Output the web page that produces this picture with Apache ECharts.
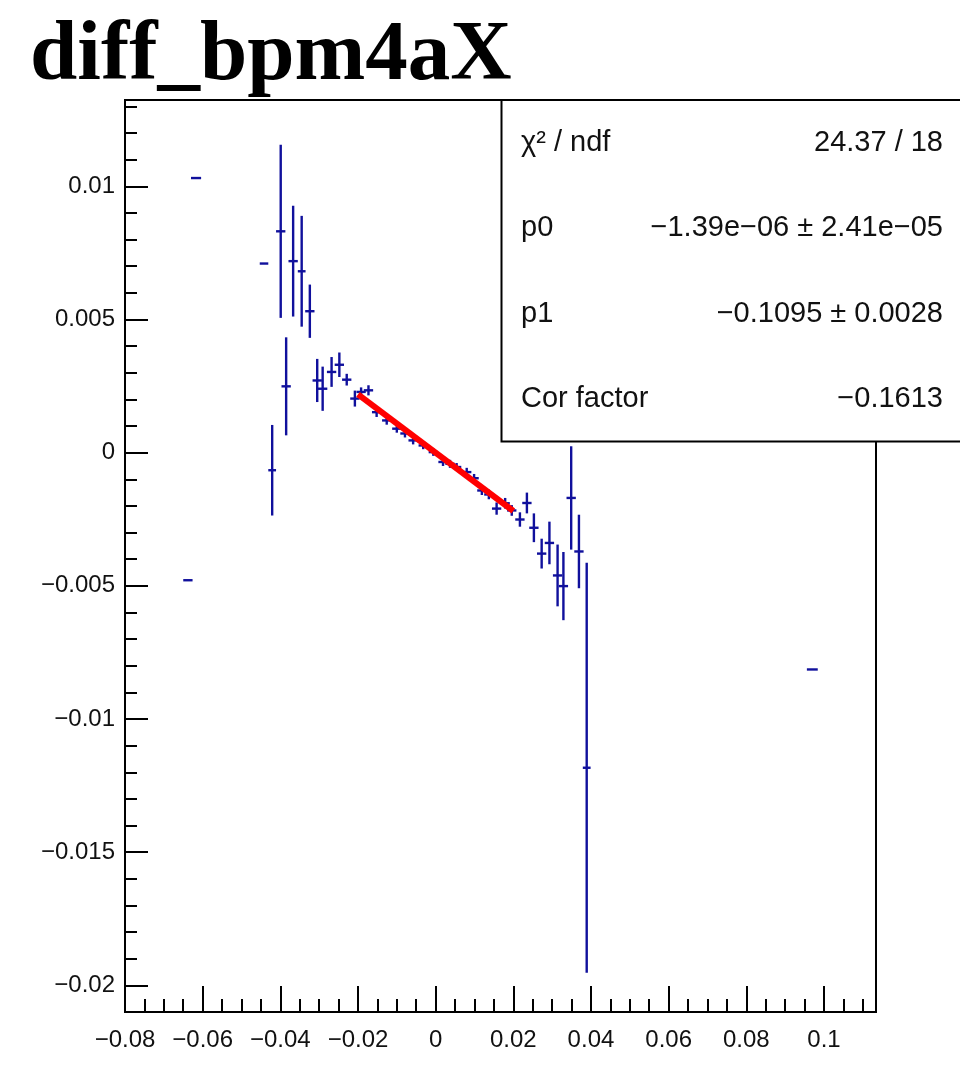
<!DOCTYPE html>
<html><head><meta charset="utf-8">
<script src="https://cdn.jsdelivr.net/npm/echarts@6/dist/echarts.min.js"></script>
<style>html,body{margin:0;padding:0;background:#fff}#c{width:960px;height:1075px}</style>
</head><body><div id="c"></div>
<script>
// ---- data ----
const pointX = [-0.0638, -0.0617, -0.0442, -0.0421, -0.0399, -0.0385, -0.0367, -0.0345, -0.0324, -0.0305,
                -0.0291, -0.0268, -0.0248, -0.0229, -0.0208, -0.0192, -0.0173, -0.0152, -0.0126, -0.0100,
                -0.0079, -0.0058, -0.0032, -0.0006, 0.0019, 0.0037, 0.0054, 0.0080, 0.0099, 0.0119,
                0.0137, 0.0157, 0.0179, 0.0196, 0.0217, 0.0235, 0.0253, 0.0273, 0.0293, 0.0314,
                0.0329, 0.0349, 0.0369, 0.0389, 0.0970];
const pointY = [-0.00479, 0.01031, 0.00710, -0.00066, 0.00831, 0.00249, 0.00719, 0.00681, 0.00531, 0.00271,
                0.00240, 0.00303, 0.00330, 0.00274, 0.00203, 0.00228, 0.00234, 0.00152, 0.00121, 0.00090,
                0.00072, 0.00046, 0.00027, 0.00002, -0.00035, -0.00042, -0.00054, -0.00073, -0.00096, -0.00142,
                -0.00157, -0.00210, -0.00190, -0.00217, -0.00251, -0.00189, -0.00282, -0.00379, -0.00339, -0.00461,
                -0.00501, -0.00170, -0.00371, -0.01183, -0.00814];
const errX   = [0.0012, 0.0013, 0.0011, 0.0010, 0.0012, 0.0012, 0.0012, 0.0010, 0.0012, 0.0012,
                0.0012, 0.0012, 0.0012, 0.0012, 0.0012, 0.0012, 0.0012, 0.0012, 0.0012, 0.0012,
                0.0012, 0.0012, 0.0012, 0.0012, 0.0012, 0.0012, 0.0012, 0.0012, 0.0012, 0.0012,
                0.0012, 0.0012, 0.0012, 0.0012, 0.0012, 0.0012, 0.0012, 0.0012, 0.0012, 0.0012,
                0.0012, 0.0012, 0.0012, 0.0010, 0.0014];
const errY   = [0, 0, 0, 0.00170, 0.00325, 0.00184, 0.00208, 0.00208, 0.00100, 0.00081,
                0.00083, 0.00056, 0.00046, 0.00022, 0.00030, 0.00017, 0.00019, 0.00018, 0.00016, 0.00015,
                0.00015, 0.00015, 0.00014, 0.00014, 0.00015, 0.00015, 0.00015, 0.00016, 0.00016, 0.00017,
                0.00018, 0.00023, 0.00020, 0.00020, 0.00027, 0.00039, 0.00054, 0.00056, 0.00080, 0.00116,
                0.00128, 0.00194, 0.00138, 0.00770, 0];
const fitX = [-0.02, 0.02];
const fitY = [0.00219, -0.00219];

const xMajor  = [-0.08, -0.06, -0.04, -0.02, 0, 0.02, 0.04, 0.06, 0.08, 0.1];
const xLabels = ['\u22120.08', '\u22120.06', '\u22120.04', '\u22120.02', '0', '0.02', '0.04', '0.06', '0.08', '0.1'];
const xMinor  = [-0.075, -0.07, -0.065, -0.055, -0.05, -0.045, -0.035, -0.03, -0.025, -0.015, -0.01, -0.005,
                 0.005, 0.01, 0.015, 0.025, 0.03, 0.035, 0.045, 0.05, 0.055, 0.065, 0.07, 0.075, 0.085, 0.09, 0.095, 0.105, 0.11];
const yMajor  = [0.01, 0.005, 0, -0.005, -0.01, -0.015, -0.02];
const yLabels = ['0.01', '0.005', '0', '\u22120.005', '\u22120.01', '\u22120.015', '\u22120.02'];
const yMinor  = [0.013, 0.012, 0.011, 0.009, 0.008, 0.007, 0.006, 0.004, 0.003, 0.002, 0.001,
                 -0.001, -0.002, -0.003, -0.004, -0.006, -0.007, -0.008, -0.009, -0.011, -0.012, -0.013, -0.014,
                 -0.016, -0.017, -0.018, -0.019];
const statsNames  = ['\u03c7\u00b2 / ndf', 'p0', 'p1', 'Cor factor'];
const statsValues = ['24.37 / 18', '\u22121.39e\u221206 \u00b1 2.41e\u221205', '\u22120.1095 \u00b1 0.0028', '\u22120.1613'];
const titleText = 'diff_bpm4aX';

// ---- chart ----
const BLUE = '#10109c';
const X_MIN = -0.08, X_MAX = 0.1134, Y_MIN = -0.0210, Y_MAX = 0.01324;
const FONT = '"Liberation Sans", Arial, Helvetica, sans-serif';
const lab = (ticks, labels) => v => {
  const i = ticks.findIndex(t => Math.abs(t - v) < 1e-9);
  return i >= 0 ? labels[i] : '';
};
const tickStyle = {color: '#000', width: 2};
const noLine = {show: false, onZero: false};

const chart = echarts.init(document.getElementById('c'), null, {renderer: 'canvas'});
const statsGraphic = [{
  type: 'rect', z: 100,
  shape: {x: 501.5, y: 100, width: 480, height: 341.5},
  style: {fill: '#fff', stroke: '#000', lineWidth: 2}
}];
const rowCenters = [142.7, 228.1, 313.5, 398.9];
statsNames.forEach((n, i) => {
  statsGraphic.push({type: 'text', z: 101, x: 521, y: rowCenters[i],
    style: {text: n, font: '29px ' + FONT, fill: '#111', align: 'left', verticalAlign: 'middle'}});
  statsGraphic.push({type: 'text', z: 101, x: 943, y: rowCenters[i],
    style: {text: statsValues[i], font: '29px ' + FONT, fill: '#111', align: 'right', verticalAlign: 'middle'}});
});

chart.setOption({
  animation: false,
  backgroundColor: '#fff',
  title: {
    text: titleText, left: 30, top: 15, padding: 0,
    textStyle: {fontFamily: '"Liberation Serif", "Times New Roman", serif', fontWeight: 'bold', fontSize: 85, color: '#000'}
  },
  grid: {left: 125, right: 84, top: 100, bottom: 63, show: true, borderColor: '#000', borderWidth: 2, backgroundColor: 'transparent'},
  xAxis: [
    {type: 'value', min: X_MIN, max: X_MAX, position: 'bottom',
     axisLine: noLine, splitLine: {show: false},
     axisTick: {show: true, inside: true, length: 26, customValues: xMajor, lineStyle: tickStyle},
     axisLabel: {show: true, customValues: xMajor, formatter: lab(xMajor, xLabels), fontSize: 24, fontFamily: FONT, color: '#111', margin: 16, showMinLabel: true, showMaxLabel: true, hideOverlap: false}},
    {type: 'value', min: X_MIN, max: X_MAX, position: 'bottom',
     axisLine: noLine, splitLine: {show: false},
     axisTick: {show: true, inside: true, length: 13, customValues: xMinor, lineStyle: tickStyle},
     axisLabel: {show: false}}
  ],
  yAxis: [
    {type: 'value', min: Y_MIN, max: Y_MAX, position: 'left',
     axisLine: noLine, splitLine: {show: false},
     axisTick: {show: true, inside: true, length: 23, customValues: yMajor, lineStyle: tickStyle},
     axisLabel: {show: true, customValues: yMajor, formatter: lab(yMajor, yLabels), fontSize: 24, fontFamily: FONT, color: '#111', margin: 10, hideOverlap: false}},
    {type: 'value', min: Y_MIN, max: Y_MAX, position: 'left',
     axisLine: noLine, splitLine: {show: false},
     axisTick: {show: true, inside: true, length: 12, customValues: yMinor, lineStyle: tickStyle},
     axisLabel: {show: false}}
  ],
  series: [
    {
      type: 'custom', xAxisIndex: 0, yAxisIndex: 0, clip: true, z: 5,
      data: pointX.map((x, i) => [x, pointY[i], errX[i], errY[i]]),
      encode: {x: 0, y: 1},
      renderItem: (params, api) => {
        const x = api.value(0), y = api.value(1), ex = api.value(2), ey = api.value(3);
        const l = api.coord([x - ex, y]), r = api.coord([x + ex, y]);
        const style = {stroke: BLUE, lineWidth: 2.4};
        const children = [{type: 'line', shape: {x1: l[0], y1: l[1], x2: r[0], y2: r[1]}, style}];
        if (ey > 0) {
          const t = api.coord([x, y + ey]), b = api.coord([x, y - ey]);
          children.push({type: 'line', shape: {x1: t[0], y1: t[1], x2: b[0], y2: b[1]}, style});
        }
        return {type: 'group', children};
      }
    },
    {
      type: 'line', xAxisIndex: 0, yAxisIndex: 0, z: 6,
      data: fitX.map((x, i) => [x, fitY[i]]),
      symbol: 'none', lineStyle: {color: '#ff0000', width: 6}
    }
  ],
  graphic: statsGraphic
});
</script>
</body></html>
